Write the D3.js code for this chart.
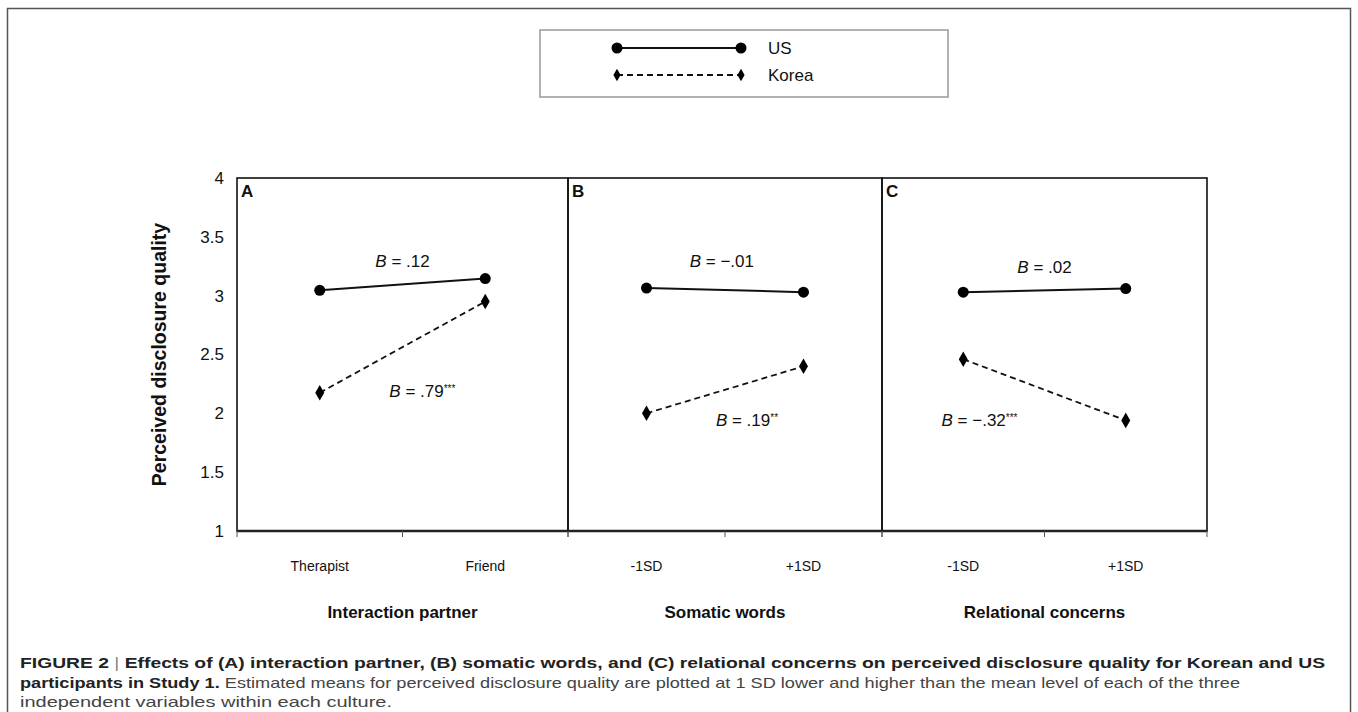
<!DOCTYPE html>
<html>
<head>
<meta charset="utf-8">
<script src="https://cdn.jsdelivr.net/npm/d3@7"></script>
<style>
  body { margin: 0; background: #fff; }
  svg { display: block; font-family: "Liberation Sans", Arial, sans-serif; }
</style>
</head>
<body>
<script>
// data
var panelLetters = ["A", "B", "C"];
var categories = [["Therapist", "Friend"], ["-1SD", "+1SD"], ["-1SD", "+1SD"]];
var axisTitles = ["Interaction partner", "Somatic words", "Relational concerns"];
var usValues = [[3.045, 3.145], [3.065, 3.03], [3.03, 3.06]];
var koreaValues = [[2.175, 2.95], [2.0, 2.40], [2.46, 1.94]];
var usSlopes = [".12", "\u2212.01", ".02"];
var koreaSlopes = [".79", ".19", "\u2212.32"];
var koreaStars = ["***", "**", "***"];
var yTicks = [1, 1.5, 2, 2.5, 3, 3.5, 4];
var seriesNames = ["US", "Korea"];

// layout
var W = 1358, H = 712;
var panelEdges = [237, 568, 882, 1207];
// where the B labels sit: [x fraction of panel, y in data units]
var usLabelPos = [[0.5, 3.29], [0.49, 3.29], [0.5, 3.24]];
var koreaLabelPos = [[0.56, 2.19], [0.57, 1.945], [0.3, 1.945]];

var svg = d3.select("body").append("svg")
    .attr("width", W).attr("height", H);

// outer frame
svg.append("rect")
    .attr("x", 7.5).attr("y", 8.5)
    .attr("width", 1343).attr("height", 720)
    .attr("fill", "none").attr("stroke", "#555").attr("stroke-width", 1.5);

var y = d3.scaleLinear().domain([1, 4]).range([531, 178]);

// y axis labels
svg.append("g").selectAll("text")
    .data(yTicks).enter().append("text")
    .attr("x", 224).attr("y", function(d){ return y(d); })
    .attr("dy", "0.35em")
    .attr("text-anchor", "end")
    .style("font-size", "17px").style("fill", "#111")
    .text(function(d){ return d; });

svg.append("text")
    .attr("transform", "translate(166," + y(2.5) + ") rotate(-90)")
    .attr("text-anchor", "middle")
    .style("font-size", "19.5px").style("font-weight", "bold").style("fill", "#111")
    .text("Perceived disclosure quality");

var diamond = d3.symbol().type(d3.symbolDiamond).size(70);

var usLine = d3.line(), koLine = d3.line();

panelLetters.forEach(function(letter, i) {
    var x0 = panelEdges[i], x1 = panelEdges[i + 1];
    var x = d3.scalePoint().domain(categories[i]).range([x0, x1]).padding(0.5);
    var band = d3.scaleBand().domain(categories[i]).range([x0, x1]);
    var g = svg.append("g").attr("class", "panel");

    g.append("rect")
        .attr("x", x0).attr("y", y(4))
        .attr("width", x1 - x0).attr("height", y(1) - y(4))
        .attr("fill", "none").attr("stroke", "#111").attr("stroke-width", 1.6);

    g.append("text")
        .attr("x", x0 + 4).attr("y", y(4) + 19)
        .style("font-size", "17px").style("font-weight", "bold").style("fill", "#111")
        .text(letter);

    // x axis with ticks between categories
    var ax = g.append("g").attr("transform", "translate(0," + y(1) + ")");
    ax.append("line").attr("x1", x0).attr("x2", x1)
        .attr("stroke", "#222").attr("stroke-width", 2.4);
    var edges = categories[i].map(function(c){ return band(c); }).concat([x1]);
    ax.selectAll("line.tk").data(edges).enter().append("line")
        .attr("class", "tk")
        .attr("x1", function(d){ return d; }).attr("x2", function(d){ return d; })
        .attr("y1", 0).attr("y2", 6)
        .attr("stroke", "#555").attr("stroke-width", 1);
    ax.selectAll("text").data(categories[i]).enter().append("text")
        .attr("x", function(d){ return x(d); }).attr("y", 40)
        .attr("text-anchor", "middle")
        .style("font-size", "14px").style("fill", "#111")
        .text(function(d){ return d; });

    g.append("text")
        .attr("x", (x0 + x1) / 2).attr("y", y(1) + 87)
        .attr("text-anchor", "middle")
        .style("font-size", "17px").style("font-weight", "bold").style("fill", "#111")
        .text(axisTitles[i]);

    var us = usValues[i].map(function(v, j){ return [x(categories[i][j]), y(v)]; });
    var ko = koreaValues[i].map(function(v, j){ return [x(categories[i][j]), y(v)]; });

    g.append("path").attr("d", usLine(us))
        .attr("fill", "none").attr("stroke", "#111").attr("stroke-width", 2);
    g.append("path").attr("d", koLine(ko))
        .attr("fill", "none").attr("stroke", "#111").attr("stroke-width", 1.8)
        .attr("stroke-dasharray", "6,4");

    g.selectAll("circle").data(us).enter().append("circle")
        .attr("cx", function(d){ return d[0]; }).attr("cy", function(d){ return d[1]; })
        .attr("r", 5.5).attr("fill", "#000");
    g.selectAll("path.dm").data(ko).enter().append("path")
        .attr("class", "dm").attr("d", diamond)
        .attr("transform", function(d){ return "translate(" + d[0] + "," + d[1] + ")"; })
        .attr("fill", "#000");

    // slope labels
    var t1 = g.append("text")
        .attr("x", x0 + (x1 - x0) * usLabelPos[i][0]).attr("y", y(usLabelPos[i][1]))
        .attr("dy", "0.35em").attr("text-anchor", "middle")
        .style("font-size", "17px").style("fill", "#111");
    t1.append("tspan").style("font-style", "italic").text("B");
    t1.append("tspan").text(" = " + usSlopes[i]);

    var t2 = g.append("text")
        .attr("x", x0 + (x1 - x0) * koreaLabelPos[i][0]).attr("y", y(koreaLabelPos[i][1]))
        .attr("dy", "0.35em").attr("text-anchor", "middle")
        .style("font-size", "17px").style("fill", "#111");
    t2.append("tspan").style("font-style", "italic").text("B");
    t2.append("tspan").text(" = " + koreaSlopes[i]);
    t2.append("tspan").attr("dy", "-0.5em").style("font-size", "10px").text(koreaStars[i]);
});

// legend
var leg = svg.append("g");
leg.append("rect")
    .attr("x", 540).attr("y", 30).attr("width", 408).attr("height", 67)
    .attr("fill", "#fff").attr("stroke", "#999").attr("stroke-width", 1.5);
var legRows = [48, 75];
seriesNames.forEach(function(name, k) {
    var ly = legRows[k];
    leg.append("line").attr("x1", 617).attr("x2", 741).attr("y1", ly).attr("y2", ly)
        .attr("stroke", "#111").attr("stroke-width", k === 0 ? 2 : 1.8)
        .attr("stroke-dasharray", k === 0 ? null : "6,4");
    [617, 741].forEach(function(px) {
        if (k === 0) {
            leg.append("circle").attr("cx", px).attr("cy", ly).attr("r", 5.5).attr("fill", "#000");
        } else {
            leg.append("path").attr("d", d3.symbol().type(d3.symbolDiamond).size(45))
                .attr("transform", "translate(" + px + "," + ly + ")").attr("fill", "#000");
        }
    });
    leg.append("text").attr("x", 768).attr("y", ly).attr("dy", "0.35em")
        .style("font-size", "17px").style("fill", "#111").text(name);
});

// caption
var cap = svg.append("g").style("font-size", "15px");
var c1 = cap.append("text").attr("x", 20).attr("y", 668).style("fill", "#222").style("font-weight", "bold")
    .attr("textLength", 1305).attr("lengthAdjust", "spacingAndGlyphs");
c1.append("tspan").text("FIGURE 2 ");
c1.append("tspan").style("font-weight", "normal").style("fill", "#888").text("|");
c1.append("tspan").text(" Effects of (A) interaction partner, (B) somatic words, and (C) relational concerns on perceived disclosure quality for Korean and US");
var c2 = cap.append("text").attr("x", 20).attr("y", 688).style("fill", "#444")
    .attr("textLength", 1220).attr("lengthAdjust", "spacingAndGlyphs");
c2.append("tspan").style("font-weight", "bold").style("fill", "#222").text("participants in Study 1.");
c2.append("tspan").text(" Estimated means for perceived disclosure quality are plotted at 1 SD lower and higher than the mean level of each of the three");
cap.append("text").attr("x", 20).attr("y", 707).style("fill", "#444")
    .attr("textLength", 372).attr("lengthAdjust", "spacingAndGlyphs")
    .text("independent variables within each culture.");
</script>
</body>
</html>
